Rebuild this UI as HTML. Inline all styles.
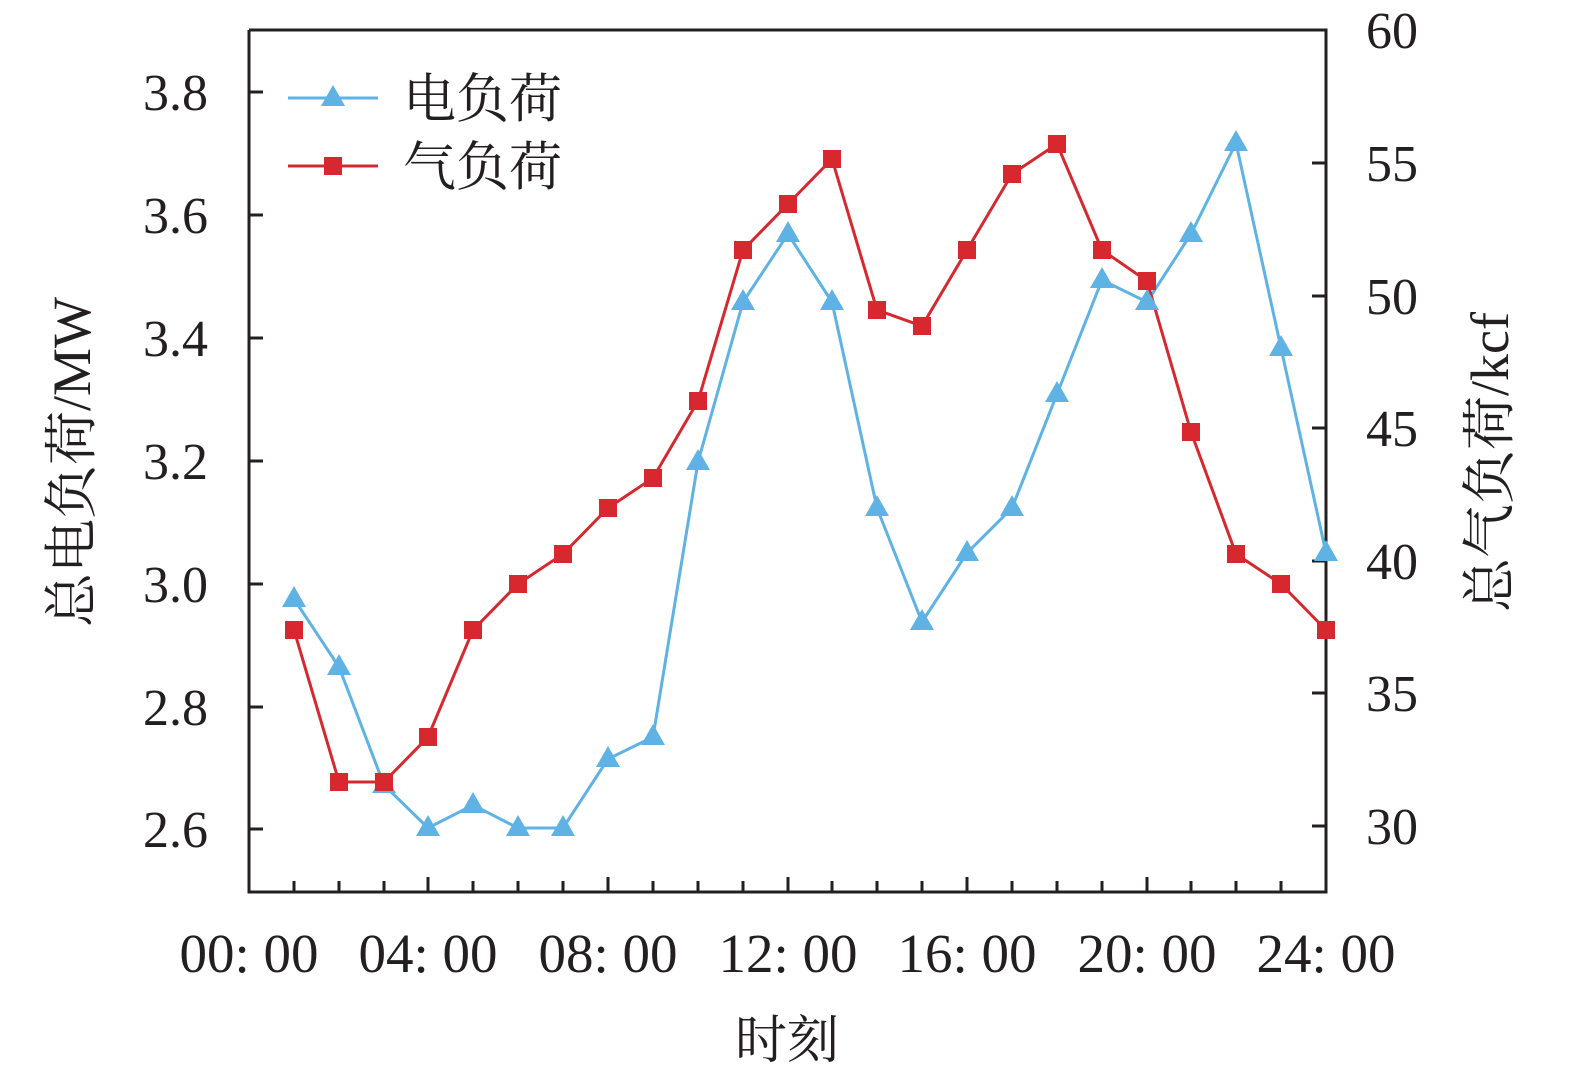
<!DOCTYPE html>
<html><head><meta charset="utf-8"><style>body{margin:0;background:#fff}</style></head><body>
<svg width="1575" height="1073" viewBox="0 0 1575 1073" xmlns="http://www.w3.org/2000/svg" font-family="'Liberation Serif','Noto Serif CJK SC',serif">
<defs>
<polygon id="tri" points="0,-13 -12,8 12,8" fill="#5fb3e4"/>
<rect id="sq" x="-9" y="-9" width="18" height="18" fill="#d7282f"/>
</defs>
<rect width="1575" height="1073" fill="#fff"/>
<g stroke="#231f20" stroke-width="3" fill="none">
<path d="M249,30 V892 H1326 V30 H249"/>
<path d="M294,892v-11M339,892v-11M384,892v-11M428,892v-15M473,892v-11M518,892v-11M563,892v-11M608,892v-15M653,892v-11M698,892v-11M743,892v-11M788,892v-15M832,892v-11M877,892v-11M922,892v-11M967,892v-15M1012,892v-11M1057,892v-11M1102,892v-11M1147,892v-15M1191,892v-11M1236,892v-11M1281,892v-11"/>
<path d="M249,92h14M249,215h14M249,338h14M249,461h14M249,584h14M249,707h14M249,829h14"/>
<path d="M1326,163h-14M1326,296h-14M1326,428h-14M1326,561h-14M1326,693h-14M1326,826h-14"/>
</g>
<polyline fill="none" stroke="#5fb3e4" stroke-width="3" points="294,599 339,667 384,785 428,828 473,805 518,828 563,828 608,759 653,737 698,462 743,302 788,234 832,302 877,508 922,622 967,553 1012,508 1057,394 1102,280 1147,302 1191,234 1236,143 1281,348 1326,553"/>
<polyline fill="none" stroke="#d7282f" stroke-width="3" points="294,630 339,782 384,782 428,737 473,630 518,584 563,554 608,508 653,478 698,401 743,250 788,204 832,159 877,310 922,326 967,250 1012,174 1057,144 1102,250 1147,281 1191,432 1236,554 1281,584 1326,630"/>
<g>
<use href="#tri" x="294" y="599"/><use href="#tri" x="339" y="667"/><use href="#tri" x="384" y="785"/><use href="#tri" x="428" y="828"/><use href="#tri" x="473" y="805"/><use href="#tri" x="518" y="828"/><use href="#tri" x="563" y="828"/><use href="#tri" x="608" y="759"/><use href="#tri" x="653" y="737"/><use href="#tri" x="698" y="462"/><use href="#tri" x="743" y="302"/><use href="#tri" x="788" y="234"/><use href="#tri" x="832" y="302"/><use href="#tri" x="877" y="508"/><use href="#tri" x="922" y="622"/><use href="#tri" x="967" y="553"/><use href="#tri" x="1012" y="508"/><use href="#tri" x="1057" y="394"/><use href="#tri" x="1102" y="280"/><use href="#tri" x="1147" y="302"/><use href="#tri" x="1191" y="234"/><use href="#tri" x="1236" y="143"/><use href="#tri" x="1281" y="348"/><use href="#tri" x="1326" y="553"/>
<use href="#sq" x="294" y="630"/><use href="#sq" x="339" y="782"/><use href="#sq" x="384" y="782"/><use href="#sq" x="428" y="737"/><use href="#sq" x="473" y="630"/><use href="#sq" x="518" y="584"/><use href="#sq" x="563" y="554"/><use href="#sq" x="608" y="508"/><use href="#sq" x="653" y="478"/><use href="#sq" x="698" y="401"/><use href="#sq" x="743" y="250"/><use href="#sq" x="788" y="204"/><use href="#sq" x="832" y="159"/><use href="#sq" x="877" y="310"/><use href="#sq" x="922" y="326"/><use href="#sq" x="967" y="250"/><use href="#sq" x="1012" y="174"/><use href="#sq" x="1057" y="144"/><use href="#sq" x="1102" y="250"/><use href="#sq" x="1147" y="281"/><use href="#sq" x="1191" y="432"/><use href="#sq" x="1236" y="554"/><use href="#sq" x="1281" y="584"/><use href="#sq" x="1326" y="630"/>
</g>
<g font-size="52" fill="#231f20">
<text x="208" y="110" text-anchor="end">3.8</text>
<text x="208" y="233" text-anchor="end">3.6</text>
<text x="208" y="356" text-anchor="end">3.4</text>
<text x="208" y="479" text-anchor="end">3.2</text>
<text x="208" y="602" text-anchor="end">3.0</text>
<text x="208" y="725" text-anchor="end">2.8</text>
<text x="208" y="847" text-anchor="end">2.6</text>
<text x="1366" y="48">60</text>
<text x="1366" y="181">55</text>
<text x="1366" y="314">50</text>
<text x="1366" y="446">45</text>
<text x="1366" y="579">40</text>
<text x="1366" y="711">35</text>
<text x="1366" y="844">30</text>
</g>
<g font-size="55" fill="#231f20" text-anchor="middle">
<text x="249" y="972">00: 00</text>
<text x="428" y="972">04: 00</text>
<text x="608" y="972">08: 00</text>
<text x="788" y="972">12: 00</text>
<text x="967" y="972">16: 00</text>
<text x="1147" y="972">20: 00</text>
<text x="1326" y="972">24: 00</text>
<text x="787" y="1058" font-size="52">时刻</text>
<text transform="translate(90,462) rotate(-90)" font-size="54">总电负荷/MW</text>
<text transform="translate(1508,462) rotate(-90)" font-size="54">总气负荷/kcf</text>
</g>
<g font-size="53" fill="#231f20">
<text x="403" y="117">电负荷</text>
<text x="403" y="185">气负荷</text>
</g>
<line x1="288" y1="98" x2="378" y2="98" stroke="#5fb3e4" stroke-width="3"/>
<use href="#tri" x="333" y="98"/>
<line x1="288" y1="166" x2="378" y2="166" stroke="#d7282f" stroke-width="3"/>
<use href="#sq" x="333" y="166"/>
</svg>
</body></html>
